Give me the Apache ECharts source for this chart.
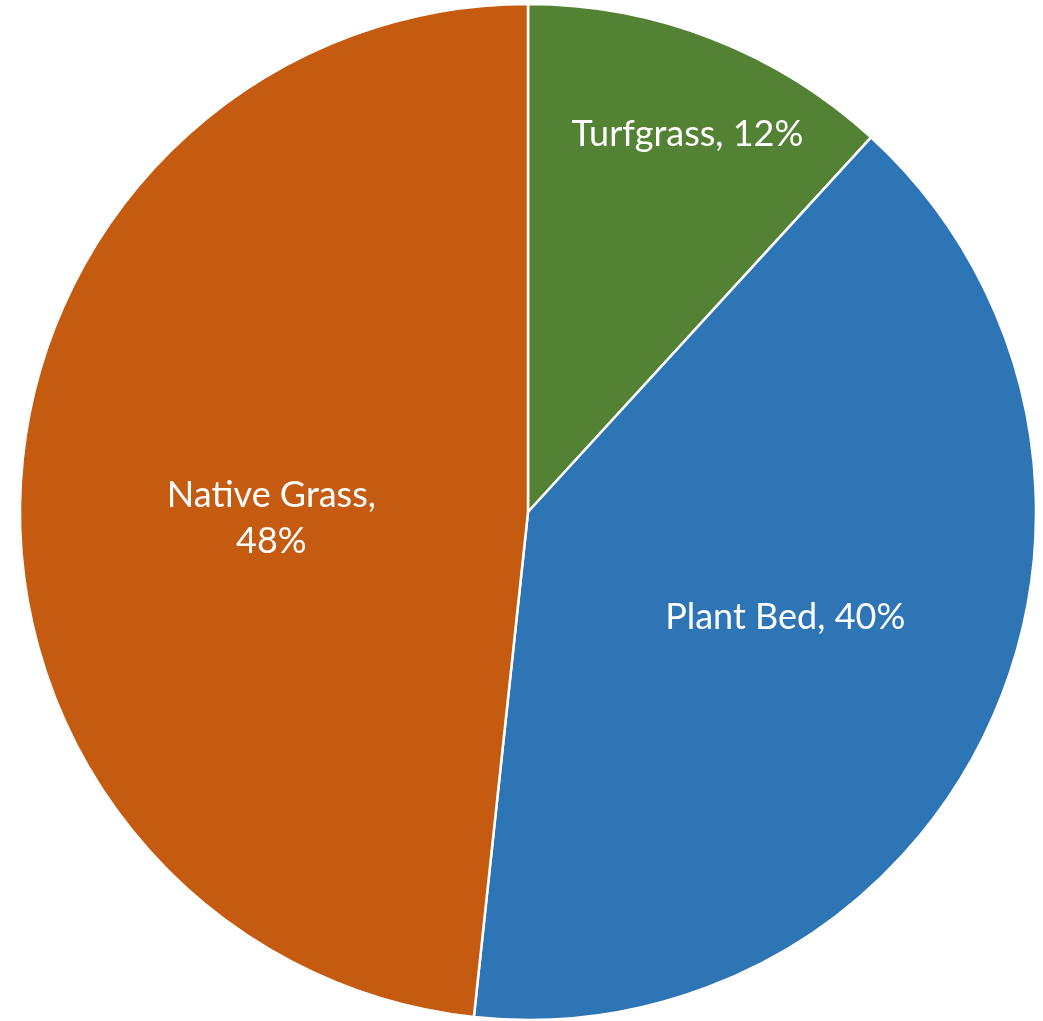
<!DOCTYPE html>
<html>
<head>
<meta charset="utf-8">
<script src="https://cdn.jsdelivr.net/npm/echarts@6/dist/echarts.min.js"></script>
<style>
html,body{margin:0;padding:0;background:#fff;}
#c{width:1043px;height:1021px;}
</style>
</head>
<body>
<div id="c"></div>
<script>
const categories = ['Turfgrass', 'Plant Bed', 'Native Grass'];
const values = [11.8, 39.9, 48.3];
const colors = ['#548235', '#2E75B6', '#C55A11'];
const labelText = ['Turfgrass, {p}%', 'Plant Bed, {p}%', 'Native Grass,\n{p}%'];
const labelShift = [[12, 2], [0, 0], [0, 20]];

const chart = echarts.init(document.getElementById('c'));
const fmt = p => labelText[p.dataIndex].replace('{p}', Math.round(p.percent));
const baseLabel = {
  position: 'inside', color: '#ffffff', fontFamily: 'Lato', fontSize: 36, lineHeight: 46, formatter: fmt
};
const mainData = categories.map((n, i) => ({
  name: n, value: values[i], itemStyle: {color: colors[i]},
  label: {show: i !== 0, padding: i === 1 ? [0, 0, 0, 46] : 0}
}));
const overlayData = categories.map((n, i) => ({
  name: n, value: values[i], itemStyle: {color: 'rgba(0,0,0,0)', borderWidth: 0},
  label: {show: i === 0}
}));
const shiftLayout = p => ({dx: labelShift[p.dataIndex][0], dy: labelShift[p.dataIndex][1]});
chart.setOption({
  animation: false,
  series: [
    {
      type: 'pie', center: [528, 512], radius: [0, 508], startAngle: 90, clockwise: true,
      avoidLabelOverlap: false,
      itemStyle: {borderColor: '#ffffff', borderWidth: 2.5},
      label: baseLabel, labelLine: {show: false}, labelLayout: shiftLayout,
      emphasis: {disabled: true},
      data: mainData
    },
    {
      type: 'pie', center: [528, 512], radius: [300, 508], startAngle: 90, clockwise: true,
      avoidLabelOverlap: false, silent: true,
      label: baseLabel, labelLine: {show: false}, labelLayout: shiftLayout,
      emphasis: {disabled: true},
      data: overlayData
    }
  ]
});
</script>
</body>
</html>
